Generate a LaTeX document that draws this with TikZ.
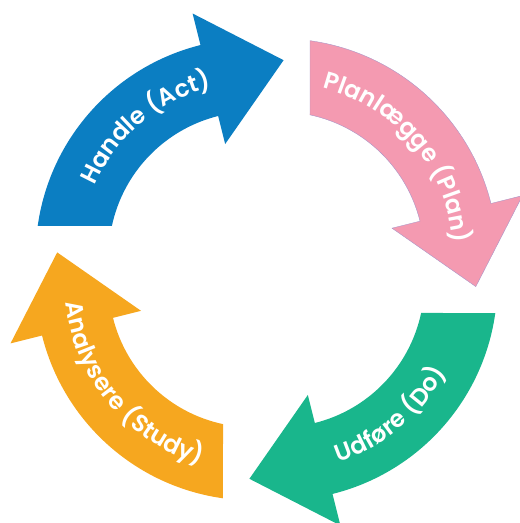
\documentclass[tikz,border=0pt]{standalone}
\usepackage{fontspec}
\newfontfamily\cyclefont{Poppins}[UprightFont=* SemiBold]
\usetikzlibrary{decorations.text}

\definecolor{actblue}{RGB}{11,126,194}
\definecolor{planpink}{RGB}{244,154,177}
\definecolor{planedge}{RGB}{170,150,200}
\definecolor{dogreen}{RGB}{25,182,140}
\definecolor{studyorange}{RGB}{246,167,31}

\tikzset{every picture/.style={line width=0.75pt}}

% one curved arrow, drawn round its own centre (tail left, head at the top)
\newcommand{\cyclearrow}[1]{%
  \path[#1] (172.04:217.5) arc[start angle=172.04, end angle=104, radius=217.5]
    -- (104:250) -- (30.5,195.9) -- (104:115.5) -- (104:144.4)
    arc[start angle=104, end angle=167.97, radius=144.4] -- cycle;}
% label on the outer side (upper arrows) and on the inner side (lower arrows)
\newcommand{\outerlabel}[1]{%
  \path[decorate, decoration={text along path, text align=center,
    text={|\cyclefont\fontsize{18}{20}\selectfont\color{white}|#1}}]
    (170:173.5) arc[start angle=170, end angle=90, radius=173.5];}
\newcommand{\innerlabel}[1]{%
  \path[decorate, decoration={text along path, text align=center,
    text={|\cyclefont\fontsize{18}{20}\selectfont\color{white}|#1}}]
    (90:188.5) arc[start angle=90, end angle=170, radius=188.5];}
\newcommand{\gap}{\hspace{5pt}}

\begin{document}
\begin{tikzpicture}[x=0.75pt,y=0.75pt]
	\useasboundingbox (-266.5,-253.5) rectangle (252.5,269.5);
	
	%Shape: Arrow, Handle (Act)
	\begin{scope}[shift={(-13.4,13.4)}]
		\cyclearrow{fill=actblue}
		\outerlabel{Handle{\gap}(Act)}
	\end{scope}
	%Shape: Arrow, Planlægge (Plan)
	\begin{scope}[rotate=-90, shift={(-13.4,13.4)}]
		\cyclearrow{fill=planpink, draw=planedge, line width=0.3pt}
		\outerlabel{Planlægge{\gap}(Plan)}
	\end{scope}
	%Shape: Arrow, Udføre (Do)
	\begin{scope}[rotate=-180, shift={(-13.4,13.4)}]
		\cyclearrow{fill=dogreen}
		\innerlabel{Udføre{\gap}(Do)}
	\end{scope}
	%Shape: Arrow, Analysere (Study)
	\begin{scope}[rotate=-270, shift={(-13.4,13.4)}]
		\cyclearrow{fill=studyorange}
		\innerlabel{Analysere{\gap}(Study)}
	\end{scope}
	
\end{tikzpicture}
\end{document}
